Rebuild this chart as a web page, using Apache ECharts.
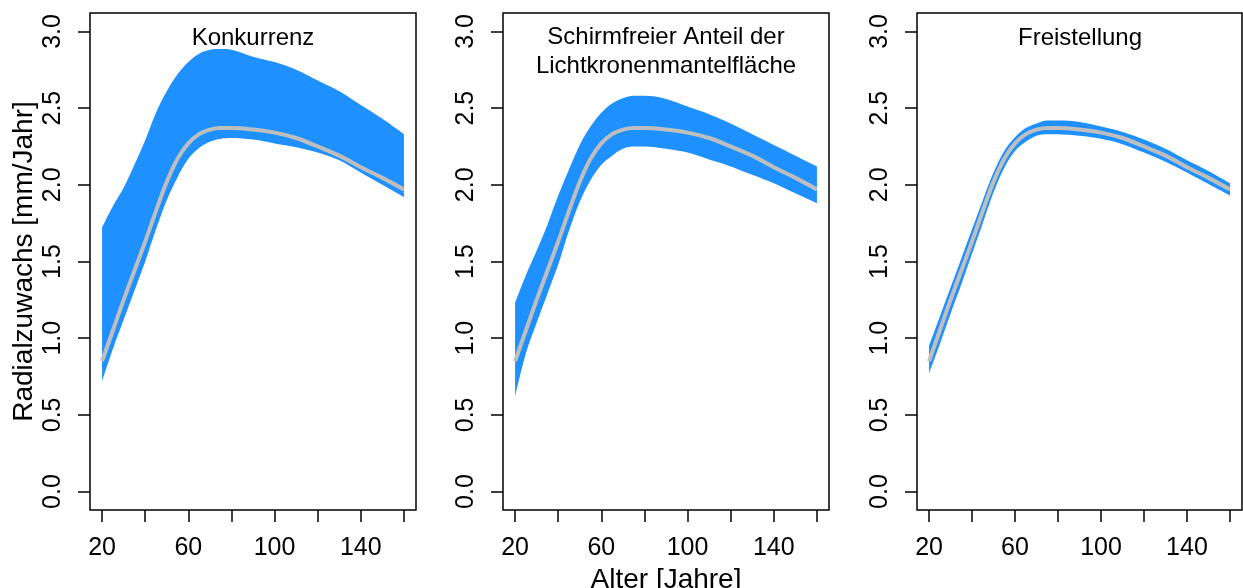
<!DOCTYPE html>
<html>
<head>
<meta charset="utf-8">
<script src="https://cdn.jsdelivr.net/npm/echarts@6/dist/echarts.min.js"></script>
<style>
  html, body { margin: 0; padding: 0; background: #fff; }
  #chart { width: 1243px; height: 588px; }
</style>
</head>
<body>
<div id="chart"></div>
<script>
// Alter [Jahre]
var ages = [20, 25, 30, 35, 40, 45, 50, 55, 60, 65, 70, 75, 80, 90, 100, 110, 120, 130, 140, 150, 160]
// fitted growth curve (same in all three panels)
var fitted = [0.85, 1.05, 1.25, 1.44, 1.63, 1.83, 2.02, 2.17, 2.27, 2.33, 2.36, 2.37, 2.37, 2.36, 2.34, 2.305, 2.25, 2.19, 2.115, 2.045, 1.97]
// ranges per variable
var konkurrenzUpper = [1.72, 1.86, 1.98, 2.13, 2.29, 2.47, 2.61, 2.72, 2.80, 2.855, 2.88, 2.885, 2.88, 2.835, 2.80, 2.75, 2.68, 2.61, 2.52, 2.43, 2.33]
var konkurrenzLower = [0.72, 0.93, 1.12, 1.31, 1.50, 1.71, 1.90, 2.05, 2.17, 2.24, 2.28, 2.30, 2.305, 2.295, 2.27, 2.245, 2.21, 2.16, 2.08, 2.00, 1.92]
var schirmUpper = [1.23, 1.41, 1.57, 1.74, 1.93, 2.10, 2.26, 2.38, 2.47, 2.53, 2.565, 2.58, 2.58, 2.56, 2.51, 2.46, 2.40, 2.33, 2.26, 2.19, 2.12]
var schirmLower = [0.62, 0.90, 1.10, 1.29, 1.48, 1.70, 1.89, 2.03, 2.13, 2.19, 2.235, 2.25, 2.25, 2.235, 2.21, 2.165, 2.12, 2.065, 2.01, 1.945, 1.88]
var freiUpper = [0.95, 1.14, 1.33, 1.52, 1.71, 1.90, 2.08, 2.22, 2.31, 2.37, 2.40, 2.42, 2.42, 2.41, 2.38, 2.345, 2.295, 2.235, 2.16, 2.09, 2.01]
var freiLower = [0.77, 0.96, 1.16, 1.35, 1.55, 1.75, 1.95, 2.11, 2.22, 2.28, 2.32, 2.33, 2.33, 2.32, 2.30, 2.265, 2.21, 2.15, 2.08, 2.005, 1.93]

var titles = ['Konkurrenz', 'Schirmfreier Anteil der\nLichtkronenmantelfläche', 'Freistellung']
var xTicks = [20, 40, 60, 80, 100, 120, 140, 160]
var xLabels = [20, 60, 100, 140]
var yTicks = [0, 0.5, 1, 1.5, 2, 2.5, 3]

var panels = [
  { upper: konkurrenzUpper, lower: konkurrenzLower },
  { upper: schirmUpper, lower: schirmLower },
  { upper: freiUpper, lower: freiLower }
]
var lefts = [90, 503, 917]
var fontFamily = '"Liberation Sans", Arial, Helvetica, sans-serif'

var chart = echarts.init(document.getElementById('chart'))

var grid = [], xAxis = [], yAxis = [], series = [], title = []

panels.forEach(function(p, i) {
  grid.push({
    left: lefts[i], top: 13, width: i === 2 ? 325 : 326, height: 497,
    outerBoundsMode: 'none', // keep all three frames the same size
    show: true, borderColor: '#000', borderWidth: 1.5, backgroundColor: 'transparent'
  })
  xAxis.push({
    type: 'value', gridIndex: i, min: 14.4, max: 165.6,
    axisLine: { show: false, onZero: false },
    splitLine: { show: false },
    axisTick: { show: true, customValues: xTicks, length: 12, lineStyle: { color: '#000', width: 1.5 } },
    axisLabel: { customValues: xLabels, fontSize: 25, color: '#000', margin: 26, fontFamily: fontFamily },
    name: i === 1 ? 'Alter [Jahre]' : '',
    nameLocation: 'middle',
    nameGap: 44,
    nameTextStyle: { fontSize: 28, color: '#000', fontFamily: fontFamily }
  })
  yAxis.push({
    type: 'value', gridIndex: i, min: -0.12, max: 3.12,
    axisLine: { show: false, onZero: false },
    splitLine: { show: false },
    axisTick: { show: true, customValues: yTicks, length: 12, lineStyle: { color: '#000', width: 1.5 } },
    axisLabel: {
      customValues: yTicks, rotate: 90, fontSize: 25, color: '#000', margin: 24, fontFamily: fontFamily,
      formatter: function(v) { return v.toFixed(1) }
    },
    name: i === 0 ? 'Radialzuwachs [mm/Jahr]' : '',
    nameLocation: 'middle',
    nameRotate: 90,
    nameGap: 52,
    nameTextStyle: { fontSize: 28, color: '#000', fontFamily: fontFamily }
  })
  title.push({
    text: titles[i],
    left: lefts[i] + 163,
    top: i === 1 ? 23 : 24,
    textAlign: 'center',
    padding: 0,
    textStyle: { fontSize: 24, fontWeight: 'normal', color: '#000', fontFamily: fontFamily, lineHeight: 29 }
  })
  // confidence band: lower bound, then band width stacked on top of it
  // (value first in each row so the stack runs on the y dimension)
  series.push({
    type: 'line',
    xAxisIndex: i, yAxisIndex: i,
    stack: 'band' + i,
    data: ages.map(function(a, k) { return [p.lower[k], a] }),
    encode: { x: 1, y: 0 },
    showSymbol: false,
    smooth: 0.35,
    lineStyle: { width: 0 },
    silent: true,
    z: 1
  })
  series.push({
    type: 'line',
    xAxisIndex: i, yAxisIndex: i,
    stack: 'band' + i,
    data: ages.map(function(a, k) { return [p.upper[k] - p.lower[k], a] }),
    encode: { x: 1, y: 0 },
    showSymbol: false,
    smooth: 0.35,
    lineStyle: { width: 0 },
    areaStyle: { color: '#1E90FF', opacity: 1 },
    silent: true,
    z: 1
  })
  series.push({
    type: 'line',
    xAxisIndex: i, yAxisIndex: i,
    data: ages.map(function(a, k) { return [a, fitted[k]] }),
    showSymbol: false,
    smooth: 0.35,
    lineStyle: { color: '#BEBEBE', width: 4 },
    z: 3
  })
})

chart.setOption({
  animation: false,
  backgroundColor: '#fff',
  title: title,
  grid: grid,
  xAxis: xAxis,
  yAxis: yAxis,
  series: series
})
</script>
</body>
</html>
